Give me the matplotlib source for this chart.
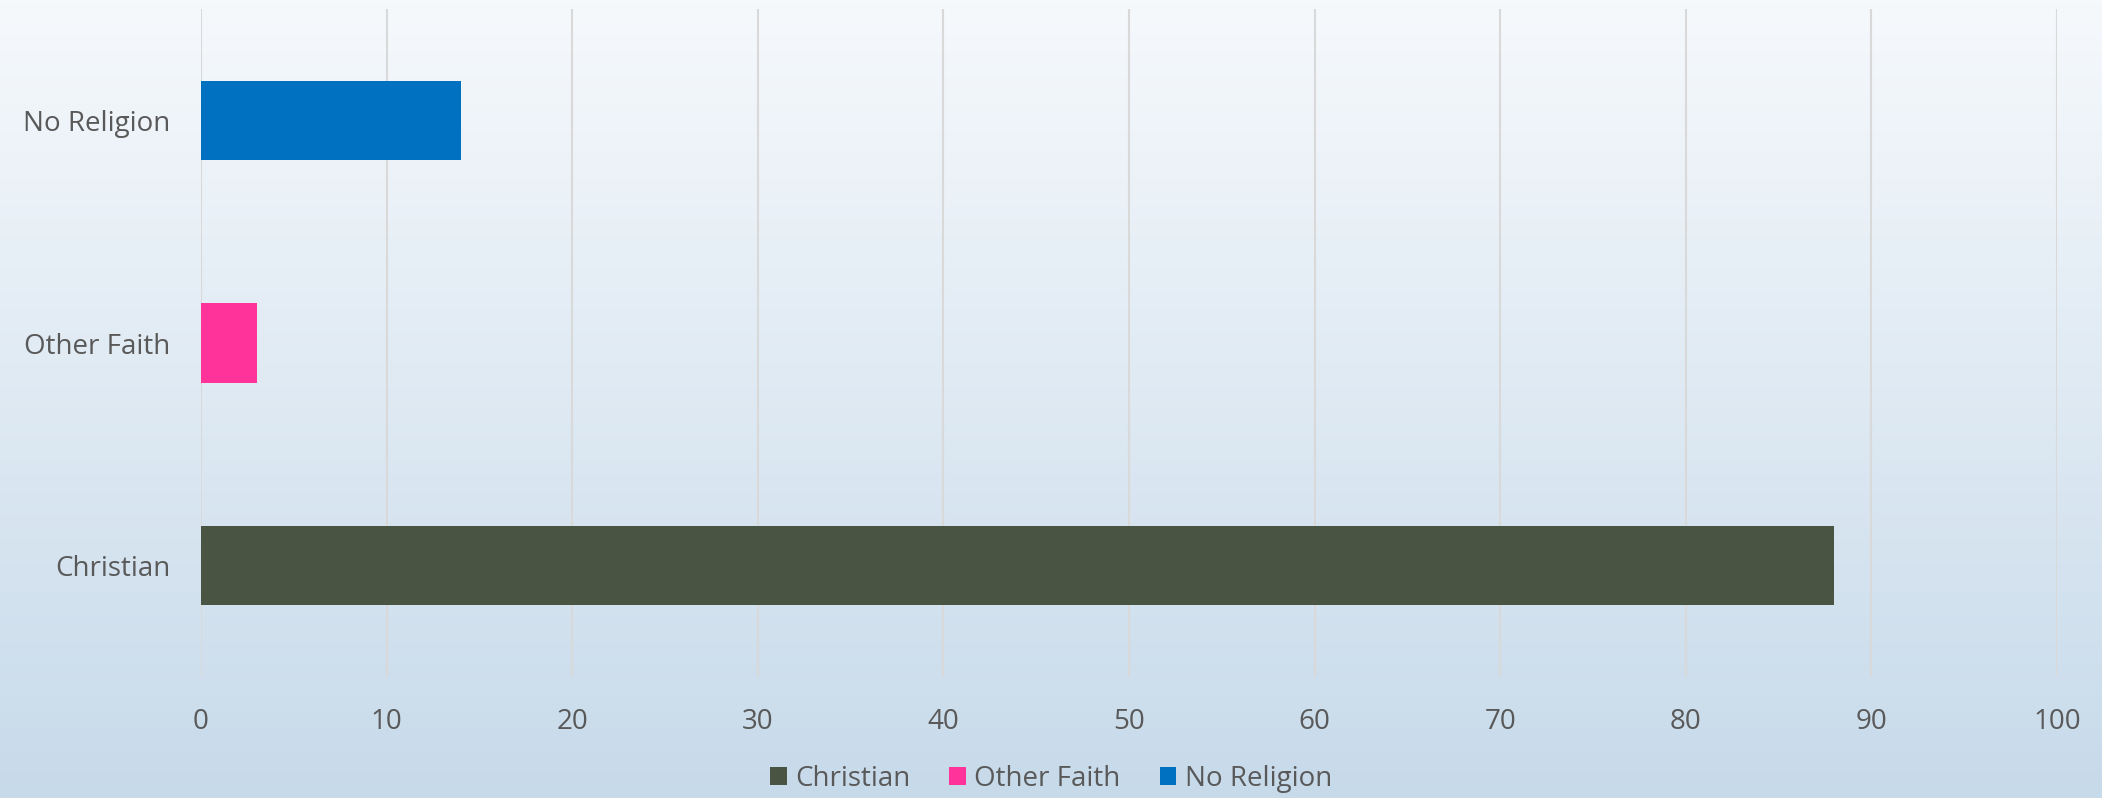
import numpy as np
import matplotlib.pyplot as plt
from matplotlib.patches import Patch

categories = ['Christian', 'Other Faith', 'No Religion']
values = [88, 3, 14]
colors = ['#4a5442', '#ff3399', '#0070c0']
xticks = list(range(0, 101, 10))

plt.rcParams['font.family'] = ['Open Sans', 'DejaVu Sans']
text_color = '#595959'

fig = plt.figure(figsize=(21.02, 7.98), dpi=100)

# background gradient, light at top to pale blue at bottom
bg = fig.add_axes([0, 0, 1, 1], zorder=-1)
top = np.array([246, 249, 252]) / 255
bottom = np.array([199, 218, 234]) / 255
t = np.linspace(0, 1, 256)[:, None]
grad = top * (1 - t) + bottom * t
bg.imshow(grad[:, None, :], aspect='auto', extent=[0, 1, 0, 1])
bg.axis('off')

ax = fig.add_axes([0.0956, 0.1516, 0.8830, 0.8371])
ax.patch.set_alpha(0)
ypos = np.arange(len(categories))
ax.barh(ypos, values, height=0.355, color=colors, zorder=3)
ax.set_xlim(0, 100)
ax.set_ylim(-0.5, 2.5)
ax.set_xticks(xticks)
ax.set_yticks(ypos)
ax.set_yticklabels(categories)
ax.grid(axis='x', color='#d9d9d9', linewidth=1.5, zorder=0)
for s in ax.spines.values():
    s.set_visible(False)
ax.tick_params(axis='x', length=0, pad=22, labelsize=20, labelcolor=text_color)
ax.tick_params(axis='y', length=0, pad=22, labelsize=20, labelcolor=text_color)

handles = [Patch(facecolor=c, label=l) for c, l in zip(colors, categories)]
fig.legend(handles=handles, loc='center', bbox_to_anchor=(0.5, 1 - 779 / 798), ncol=3,
           frameon=False, fontsize=20, labelcolor=text_color,
           handlelength=0.6, handleheight=0.6, handletextpad=0.3, columnspacing=1.4)

fig.savefig('out.png', dpi=100)
